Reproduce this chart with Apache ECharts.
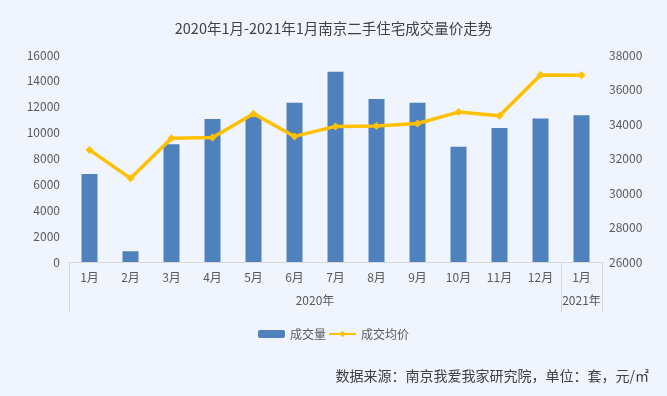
<!DOCTYPE html>
<html>
<head>
<meta charset="utf-8">
<script src="https://cdn.jsdelivr.net/npm/echarts@6/dist/echarts.min.js"></script>
<style>
html,body{margin:0;padding:0;background:#F0F4FC;}
#chart{width:667px;height:396px;}
</style>
</head>
<body>
<div id="chart"></div>
<script>
var months = ['1月','2月','3月','4月','5月','6月','7月','8月','9月','10月','11月','12月','1月'];
var volume = [6800, 830, 9100, 11050, 11250, 12300, 14700, 12600, 12300, 8900, 10350, 11100, 11350];
var price = [32500, 30850, 33180, 33220, 34600, 33280, 33860, 33880, 34030, 34690, 34480, 36840, 36830];
var years = ['2020年', '2021年'];
var yearSpans = [12, 1];
var leftTicks = {min: 0, max: 16000, interval: 2000};
var rightTicks = {min: 26000, max: 38000, interval: 2000};

// build half-step year axis
var n = months.length * 2 + 1;
var yearSlots = [];
var labelIdx = {};
var boundaryIdx = {};
var start = 0;
for (var i = 0; i < n; i++) yearSlots.push('s' + i);
for (var g = 0; g < years.length; g++) {
  boundaryIdx[2 * start] = true;
  var li = 2 * start + yearSpans[g];
  labelIdx[li] = years[g];
  start += yearSpans[g];
}
boundaryIdx[2 * start] = true;

var font = "'Noto Sans CJK SC', 'Microsoft YaHei', sans-serif";
var plain = function (v) { return String(v); };
var chart = echarts.init(document.getElementById('chart'));
chart.setOption({
  backgroundColor: '#F0F4FC',
  textStyle: {fontFamily: font},
  title: [{
    text: '2020年1月-2021年1月南京二手住宅成交量价走势',
    left: 'center', top: 16,
    textStyle: {fontSize: 14.5, fontWeight: 'normal', color: '#404040', fontFamily: font}
  }, {
    text: '数据来源：南京我爱我家研究院，单位：套，元/㎡',
    right: 13, top: 364,
    textStyle: {fontSize: 14, fontWeight: 'normal', color: '#404040', fontFamily: font}
  }],
  legend: {
    top: 323, left: 'center', itemGap: 2, itemWidth: 27, itemHeight: 8,
    textStyle: {fontSize: 12, color: '#595959', fontFamily: font},
    data: ['成交量', '成交均价']
  },
  grid: {left: 69, right: 65, top: 55, bottom: 134},
  xAxis: [{
    type: 'category', data: months, position: 'bottom',
    axisLine: {lineStyle: {color: '#D9D9D9'}},
    axisTick: {show: false},
    axisLabel: {color: '#595959', fontSize: 12, margin: 9, interval: 0}
  }, {
    type: 'category', data: yearSlots, position: 'bottom', offset: 0, boundaryGap: false,
    axisLine: {show: false},
    axisTick: {show: true, length: 50, lineStyle: {color: '#D9D9D9'},
      interval: function (idx) { return !!boundaryIdx[idx]; }},
    axisLabel: {color: '#595959', fontSize: 12, margin: 32,
      interval: function (idx) { return labelIdx[idx] !== undefined; },
      formatter: function (v, idx) { return labelIdx[idx] || ''; }}
  }],
  yAxis: [{
    type: 'value', min: leftTicks.min, max: leftTicks.max, interval: leftTicks.interval,
    splitLine: {show: false}, axisLine: {show: false}, axisTick: {show: false},
    axisLabel: {color: '#595959', fontSize: 12, margin: 9, formatter: plain}
  }, {
    type: 'value', min: rightTicks.min, max: rightTicks.max, interval: rightTicks.interval,
    splitLine: {show: false}, axisLine: {show: false}, axisTick: {show: false},
    axisLabel: {color: '#595959', fontSize: 12, margin: 7, formatter: plain}
  }],
  series: [{
    name: '成交量', type: 'bar', data: volume, xAxisIndex: 0, yAxisIndex: 0,
    barWidth: 16, itemStyle: {color: '#4F81BD'}
  }, {
    name: '成交均价', type: 'line', data: price, xAxisIndex: 0, yAxisIndex: 1,
    symbol: 'diamond', symbolSize: 8,
    lineStyle: {color: '#FFC000', width: 3.5},
    itemStyle: {color: '#FFC000'}
  }]
});
</script>
</body>
</html>
